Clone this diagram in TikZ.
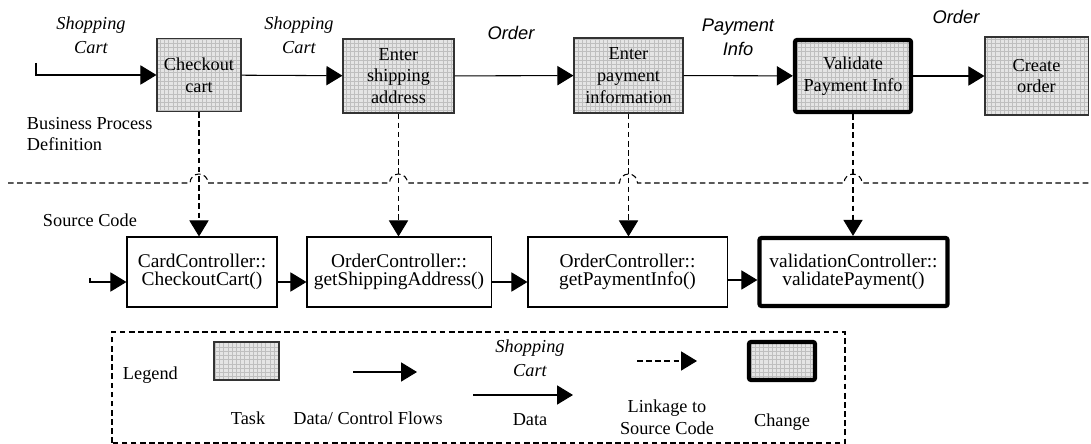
\documentclass[tikz,border=0pt]{standalone}
\usepackage{fontspec}
\setmainfont{Liberation Serif}
\newfontfamily\arialfont{Liberation Sans}
\usetikzlibrary{arrows.meta,patterns}

\tikzset{
	task/.style={draw=black!80, line width=0.75pt, preaction={fill=gray!20}, pattern=grid, pattern color=gray!50, inner sep=0pt, align=center, font=\fontsize{13}{15.5}\selectfont},
	change/.style={task, draw=black, line width=3pt, rounded corners=1.5pt},
	code/.style={draw, line width=0.75pt, inner sep=0pt, align=center, font=\fontsize{13.8}{13}\selectfont},
	bigcode/.style={code, line width=3pt, rounded corners=1.5pt},
	flow/.style={line width=0.75pt, -{Triangle[length=0.4cm,width=0.48cm]}},
	link/.style={flow, dash pattern=on 4pt off 2.5pt},
	sep/.style={line width=0.75pt, dash pattern=on 4pt off 2.5pt},
	datalbl/.style={align=center, font=\fontsize{13}{17}\selectfont\itshape},
	sanslbl/.style={align=center, font=\fontsize{13}{17}\selectfont\arialfont\itshape},
	txt/.style={align=left, font=\fontsize{13}{15.5}\selectfont}
}

\begin{document}
\begin{tikzpicture}[x=0.025cm, y=0.025cm]
	\useasboundingbox (0,0) rectangle (1091,444);
	
	% Business process tasks
	\node[task, minimum width=2.1cm, minimum height=1.825cm] (checkout) at (199,369) {Checkout\\cart};
	\node[task, minimum width=2.775cm, minimum height=1.85cm] (shipping) at (398.5,368) {Enter\\shipping\\address};
	\node[task, minimum width=2.725cm, minimum height=1.875cm] (payment) at (628.5,368.5) {Enter\\payment\\information};
	\node[change, minimum width=2.9cm, minimum height=1.8cm] (validate) at (853,368) {Validate\\Payment Info};
	\node[task, minimum width=2.575cm, minimum height=1.95cm] (create) at (1036.5,368) {Create\\order};
	
	% Data flows between tasks
	\coordinate (procin) at (36,381);
	\draw[flow] (procin) |- (checkout.west);
	\draw[flow] (checkout) -- (shipping);
	\draw[flow] (shipping) -- (payment);
	\draw[flow] (payment) -- (validate);
	\draw[flow] (validate) -- (create);
	
	% Data labels
	\node[datalbl] (cart1) at (91,409) {Shopping\\Cart};
	\node[datalbl] (cart2) at (299,409) {Shopping\\Cart};
	\node[sanslbl] (order1) at (511,411) {Order};
	\node[sanslbl] (payinfo) at (738,406.5) {Payment\\Info};
	\node[sanslbl] (order2) at (956,427) {Order};
	\node[txt, anchor=west] (bpd) at (22,310) {Business Process\\Definition};
	
	% Separator with hops
	\draw[sep] (8,261) -- (190,261) arc[start angle=180, end angle=0, radius=9]
		-- (389.5,261) arc[start angle=180, end angle=0, radius=9]
		-- (619.5,261) arc[start angle=180, end angle=0, radius=9]
		-- (844,261) arc[start angle=180, end angle=0, radius=9] -- (1091,261);
	\node[txt, anchor=west] (src) at (38,224) {Source Code};
	
	% Source code boxes
	\node[code, minimum width=3.75cm, minimum height=1.75cm] (cardctl) at (202,172) {CardController::\\CheckoutCart()};
	\node[code, minimum width=4.6cm, minimum height=1.75cm] (shipctl) at (399,172) {OrderController::\\getShippingAddress()};
	\node[code, minimum width=4.975cm, minimum height=1.75cm] (payctl) at (627.5,172) {OrderController::\\getPaymentInfo()};
	\node[bigcode, minimum width=4.7cm, minimum height=1.7cm] (valctl) at (853.5,172) {validationController::\\validatePayment()};
	
	% Control flows between code
	\coordinate (codein) at (90,166);
	\draw[flow] (codein) |- ([yshift=-0.25cm]cardctl.west);
	\draw[flow] ([yshift=-0.25cm]cardctl.east) -- ([yshift=-0.25cm]shipctl.west);
	\draw[flow] ([yshift=-0.25cm]shipctl.east) -- ([yshift=-0.25cm]payctl.west);
	\draw[flow] ([yshift=-0.2cm]payctl.east) -- ([yshift=-0.2cm]valctl.west);
	
	% Linkage to source code
	\foreach \t/\c in {checkout/cardctl, shipping/shipctl, payment/payctl, validate/valctl}
	\draw[link] (\t.south) -- (\t.south |- \c.north);
	
	% Legend
	\draw[sep] (112,1) rectangle (845,112);
	\node[txt, anchor=west] (legend) at (118,69) {Legend};
	\node[task, minimum width=1.625cm, minimum height=0.95cm] (legtask) at (246.5,83) {};
	\node[txt] (legtasktxt) at (248,26) {Task};
	\coordinate (cfa) at (353,72);
	\coordinate (cfb) at (417,72);
	\draw[flow] (cfa) -- (cfb);
	\node[txt] (legflow) at (368,26) {Data/ Control Flows};
	\coordinate (da) at (473,49);
	\coordinate (db) at (573,49);
	\draw[flow] (da) -- (db);
	\node[datalbl] (legcart) at (530,85.5) {Shopping\\Cart};
	\node[txt] (legdata) at (530,24) {Data};
	\coordinate (la) at (637,83);
	\coordinate (lb) at (697,83);
	\draw[link] (la) -- (lb);
	\node[txt, align=center] (leglink) at (667,26.5) {Linkage to\\Source Code};
	\node[change, minimum width=1.65cm, minimum height=0.95cm] (legchange) at (782,83) {};
	\node[txt] (legchangetxt) at (782,22) {Change};
\end{tikzpicture}
\end{document}
